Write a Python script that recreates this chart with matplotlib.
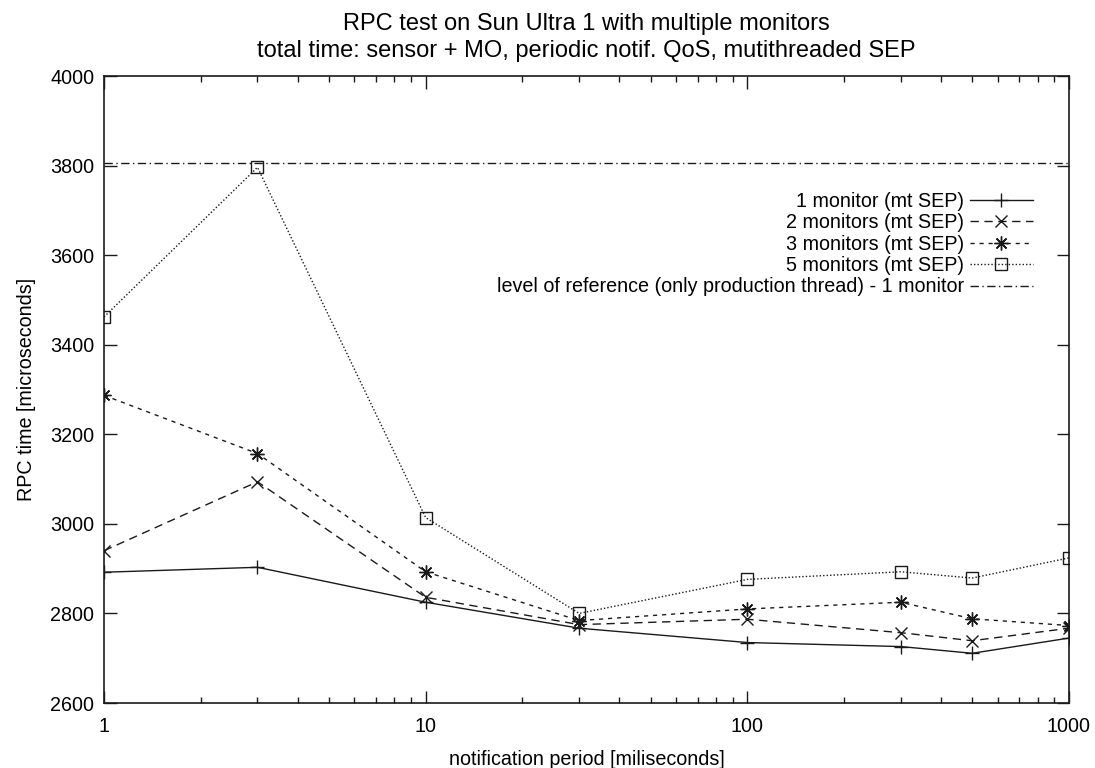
import numpy as np
import matplotlib.pyplot as plt
from matplotlib.ticker import FixedLocator, FixedFormatter, LogLocator, NullFormatter

plt.rcParams['font.family'] = ['Liberation Sans', 'DejaVu Sans']
plt.rcParams['font.size'] = 14.2

# notification period [ms]
periods = [1, 3, 10, 30, 100, 300, 500, 1000]

# RPC time [us] per configuration
mon1 = [2892, 2903, 2825, 2767, 2735, 2726, 2711, 2745]
mon2 = [2940, 3094, 2836, 2775, 2787, 2757, 2739, 2767]
mon3 = [3287, 3157, 2893, 2784, 2810, 2825, 2788, 2773]
mon5 = [3462, 3796, 3014, 2800, 2876, 2893, 2879, 2924]
reference_level = 3806

labels = ['1 monitor (mt SEP)', '2 monitors (mt SEP)', '3 monitors (mt SEP)',
          '5 monitors (mt SEP)',
          'level of reference (only production thread) - 1 monitor']

fig = plt.figure(figsize=(10.95, 7.68), dpi=100)
ax = fig.add_axes([104 / 1095, 1 - 703 / 768, (1069 - 104) / 1095, (703 - 76) / 768])

ink = '#1a1a1a'
ax.plot(periods, mon1, color=ink, lw=1.0, ls='-', marker='+', ms=10, mew=1.0,
        label=labels[0])
ax.plot(periods, mon2, color=ink, lw=1.0, ls=(0, (6, 4)), marker='x', ms=8, mew=1.0,
        label=labels[1])
ax.plot(periods, mon3, color=ink, lw=1.0, ls=(0, (3, 3.5)), marker=(8, 2, 0), ms=10,
        mew=1.0, label=labels[2])
ax.plot(periods, mon5, color=ink, lw=1.0, ls=(0, (1, 1.5)), marker='s', ms=8,
        mfc='none', mew=1.0, label=labels[3])
ax.axhline(reference_level, color=ink, lw=1.0, ls=(0, (6, 2.5, 1, 2.5)),
           label=labels[4])

ax.set_xscale('log')
ax.set_xlim(1, 1000)
ax.set_ylim(2600, 4000)

ax.xaxis.set_major_locator(FixedLocator([1, 10, 100, 1000]))
ax.xaxis.set_major_formatter(FixedFormatter(['1', '10', '100', '1000']))
ax.xaxis.set_minor_locator(LogLocator(base=10, subs=np.arange(2, 10)))
ax.xaxis.set_minor_formatter(NullFormatter())
ax.set_yticks(np.arange(2600, 4001, 200))

ax.tick_params(which='both', direction='in', top=True, right=True, color=ink)
ax.tick_params(which='major', length=9, width=1.0)
ax.tick_params(which='minor', length=4.5, width=1.0)
ax.tick_params(axis='x', pad=10)
ax.tick_params(axis='y', pad=7)
for sp in ax.spines.values():
    sp.set_linewidth(1.2)
    sp.set_color(ink)

ax.set_xlabel('notification period [miliseconds]', labelpad=10)
ax.set_ylabel('RPC time [microseconds]', labelpad=10)
ax.set_title('RPC test on Sun Ultra 1 with multiple monitors\n'
             'total time: sensor + MO, periodic notif. QoS, mutithreaded SEP',
             linespacing=1.25, pad=14)

ax.legend(loc='upper right', bbox_to_anchor=(1033 / 1095, 1 - 192 / 768),
          bbox_transform=fig.transFigure, frameon=False, markerfirst=False,
          numpoints=1, handlelength=3.2, handletextpad=0.3, labelspacing=0.12,
          borderaxespad=0, borderpad=0)

fig.savefig('out.png', dpi=100)
